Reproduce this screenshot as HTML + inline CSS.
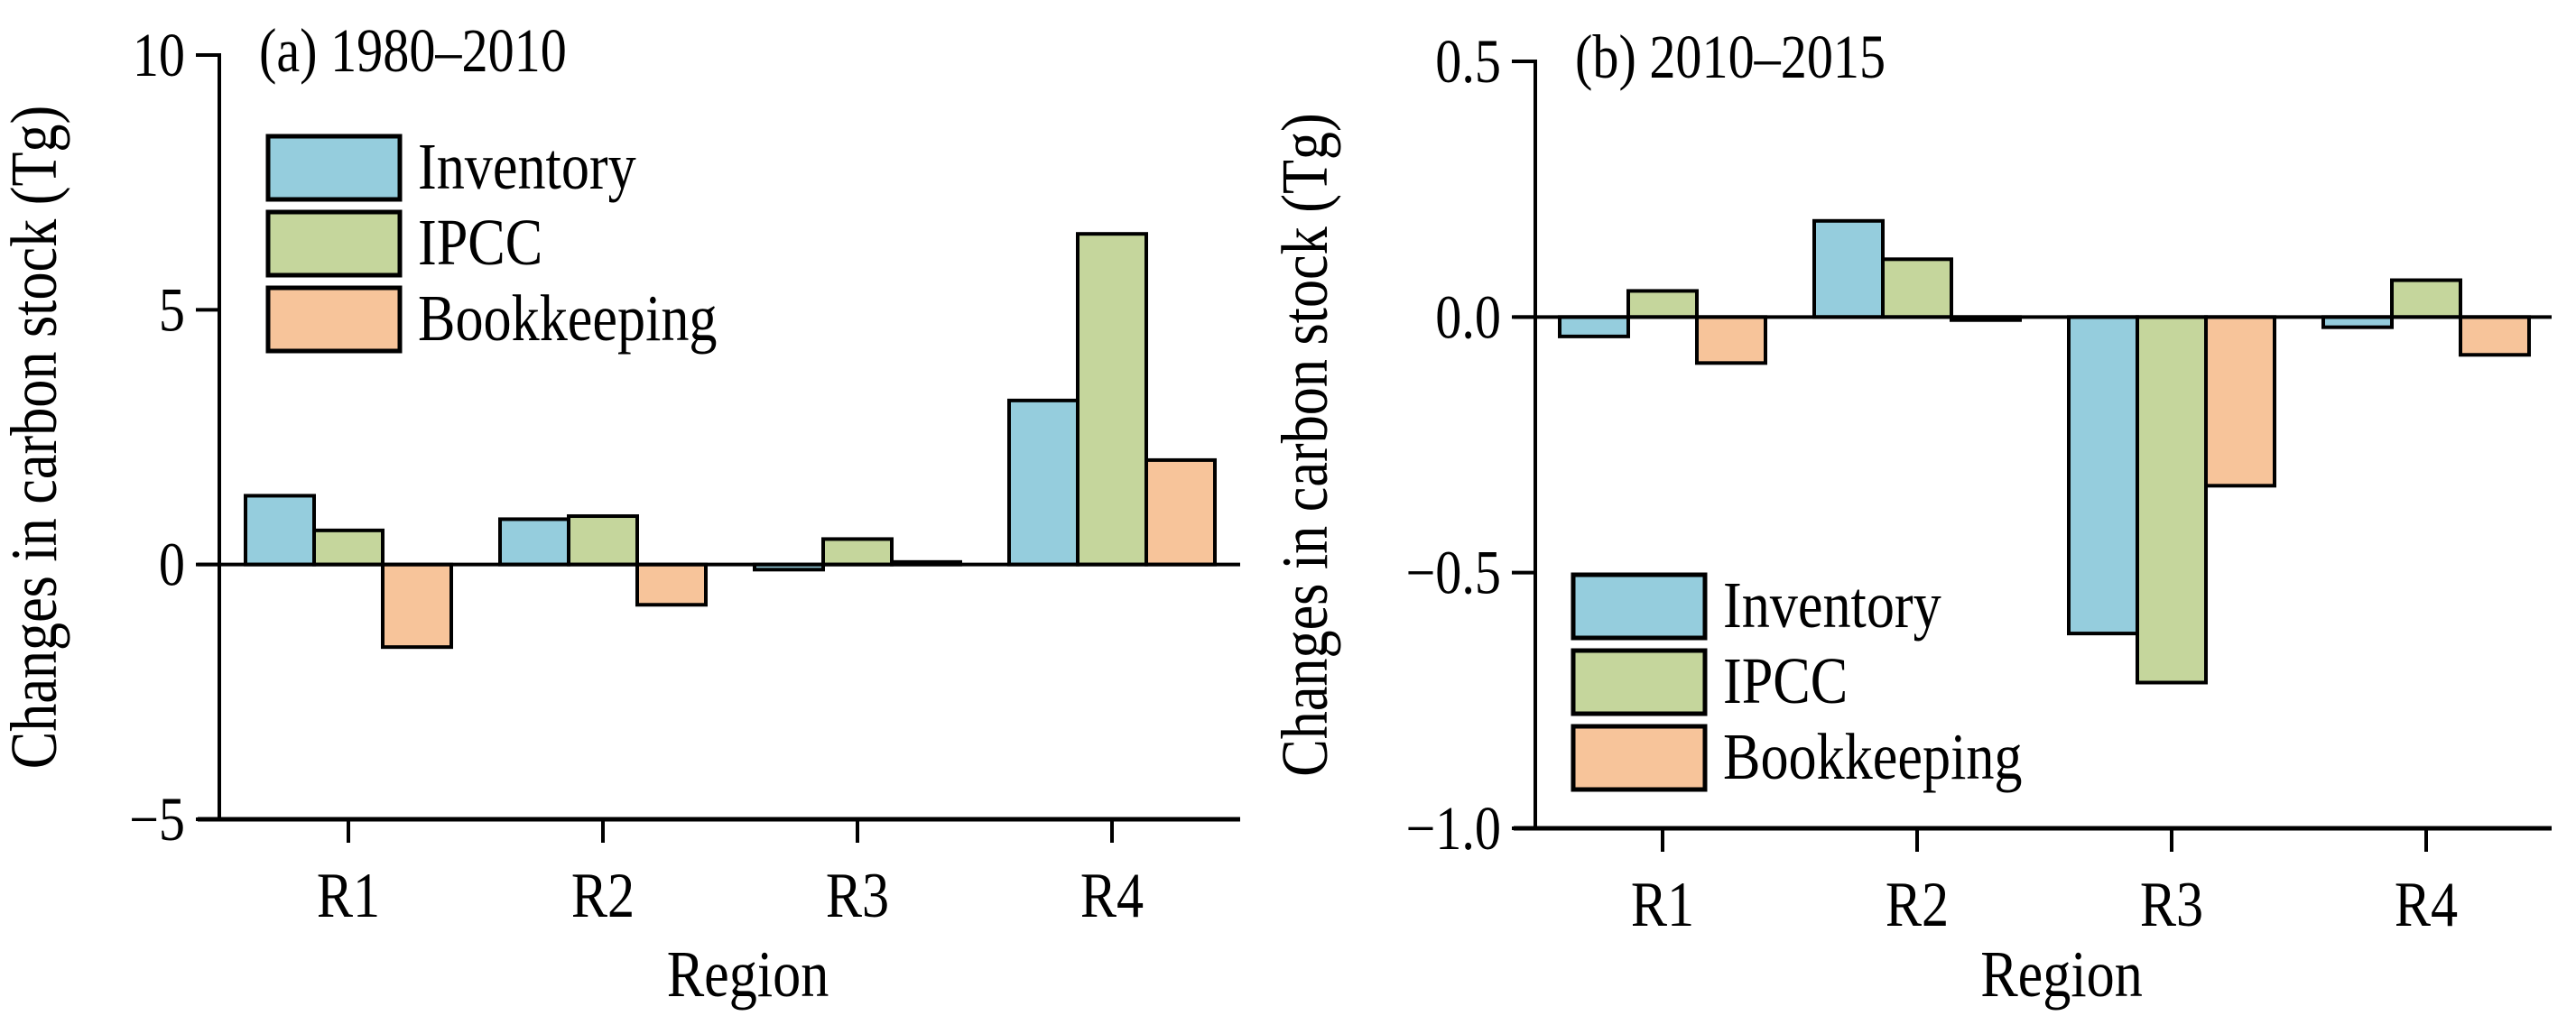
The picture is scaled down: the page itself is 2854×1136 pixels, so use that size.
<!DOCTYPE html>
<html><head><meta charset="utf-8"><style>
html,body{margin:0;padding:0;background:#fff;}
svg{display:block;font-family:"Liberation Serif",serif;}
</style></head><body>
<svg id="chart" width="2854" height="1136" viewBox="0 0 2854 1136"></svg>
<script>
const categories = ["R1","R2","R3","R4"];
const seriesNames = ["Inventory","IPCC","Bookkeeping"];
const seriesColors = ["#95cddd","#c5d69c","#f7c49a"];
const leftInventory = [1.35, 0.89, -0.1, 3.22];
const leftIPCC = [0.67, 0.95, 0.5, 6.49];
const leftBookkeeping = [-1.62, -0.79, 0.05, 2.05];
const rightInventory = [-0.038, 0.188, -0.619, -0.02];
const rightIPCC = [0.051, 0.113, -0.715, 0.072];
const rightBookkeeping = [-0.09, -0.006, -0.33, -0.074];
const leftTicks = [10, 5, 0, -5];
const leftTickLabels = ["10","5","0","\u22125"];
const rightTicks = [0.5, 0, -0.5, -1.0];
const rightTickLabels = ["0.5","0.0","\u22120.5","\u22121.0"];

const NS = "http://www.w3.org/2000/svg";
const svg = document.getElementById("chart");
const SX = 0.85, FS = 1.18;
function mk(tag, attrs, parent){
  const e = document.createElementNS(NS, tag);
  for (const k in attrs) e.setAttribute(k, attrs[k]);
  (parent||svg).appendChild(e);
  return e;
}
function txt(parent, x, y, size, anchor, str, rot){
  const t = mk("text", {x: 0, y: 0, "text-anchor": anchor, "font-size": size * FS,
    transform: "translate(" + x + " " + y + ")" + (rot ? " rotate(" + rot + ")" : "") + " scale(" + SX + " 1)"}, parent);
  t.textContent = str;
  return t;
}

function panel(cfg){
  const g = mk("g", {});
  
  
  const y = v => cfg.yTop + (cfg.vMax - v) / (cfg.vMax - cfg.vMin) * (cfg.yBot - cfg.yTop);
  const x = i => cfg.x0 + i * cfg.step;
  const bw = 76;
  const series = cfg.series;
  categories.forEach((c, i) => {
    series.forEach((arr, s) => {
      const v = arr[i];
      const bx = x(i) + (s - 1.5) * bw;
      const y0 = y(0), yv = y(v);
      const r = mk("rect", {x: bx, y: Math.min(y0, yv), width: bw, height: Math.max(Math.abs(yv - y0), 1),
        fill: seriesColors[s], stroke: "#000", "stroke-width": 4}, g);
      
      
    });
  });
  const zl = mk("line", {x1: cfg.axisX - 24, x2: cfg.xEnd, y1: y(0), y2: y(0), stroke: "#000", "stroke-width": 4}, g);
  
  
  const ya = mk("line", {x1: cfg.axisX, x2: cfg.axisX, y1: cfg.yTop - 2, y2: cfg.yBot, stroke: "#000", "stroke-width": 4}, g);
  
  
  const xa = mk("line", {x1: cfg.axisX - 24, x2: cfg.xEnd, y1: cfg.yBot, y2: cfg.yBot, stroke: "#000", "stroke-width": 5}, g);
  
  
  cfg.ticks.forEach((t, k) => {
    const tl = mk("line", {x1: cfg.axisX - 26, x2: cfg.axisX, y1: y(t), y2: y(t), stroke: "#000", "stroke-width": 4}, g);
    
    
    const tx = txt(g, cfg.axisX - 38, y(t) + 23, 58, "end", cfg.tickLabels[k]);
    
    
  });
  categories.forEach((c, i) => {
    const tl = mk("line", {x1: x(i), x2: x(i), y1: cfg.yBot, y2: cfg.yBot + 26, stroke: "#000", "stroke-width": 4}, g);
    
    
    const tx = txt(g, x(i), cfg.yBot + 108, 60, "middle", c);
    
    
  });
  const tt = txt(g, cfg.axisX + 44, cfg.yTop + 18, 58, "start", cfg.title);
  
  
  const xt = txt(g, (cfg.axisX + cfg.xEnd) / 2 + 20, 1104, 62, "middle", "Region");
  
  
  const yc = (cfg.yTop + cfg.yBot) / 2;
  const yt = txt(g, cfg.yTitleX, yc, 62, "middle", "Changes in carbon stock (Tg)", -90);
  
  
  const lg = mk("g", {}, g);
  
  
  seriesNames.forEach((n, s) => {
    const ly = cfg.legY + s * 84;
    const r = mk("rect", {x: cfg.legX, y: ly, width: 146, height: 70, fill: seriesColors[s], stroke: "#000", "stroke-width": 5}, lg);
    
    
    const t = txt(lg, cfg.legX + 166, ly + 58, 62, "start", n);
    
    
  });
}

panel({name: "panel-a", axisX: 243, xEnd: 1374, x0: 386, step: 282, yTop: 61, yBot: 908, vMax: 10, vMin: -5,
  series: [leftInventory, leftIPCC, leftBookkeeping], ticks: leftTicks, tickLabels: leftTickLabels,
  title: "(a) 1980\u20132010", yTitleX: 62, legX: 297, legY: 151});
panel({name: "panel-b", axisX: 1701, xEnd: 2827, x0: 1842, step: 282, yTop: 68, yBot: 918, vMax: 0.5, vMin: -1.0,
  series: [rightInventory, rightIPCC, rightBookkeeping], ticks: rightTicks, tickLabels: rightTickLabels,
  title: "(b) 2010\u20132015", yTitleX: 1470, legX: 1743, legY: 637});
</script>
</body></html>
